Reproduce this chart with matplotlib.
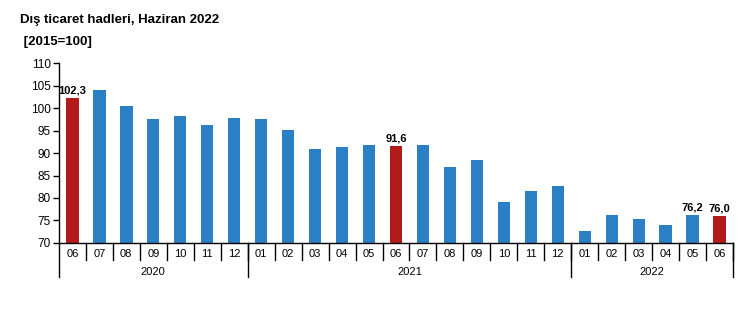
import matplotlib
matplotlib.use("Agg")
import matplotlib.pyplot as plt
import matplotlib.transforms as mtransforms

plt.rcParams['font.family'] = ['Liberation Sans', 'DejaVu Sans']

months = ['06', '07', '08', '09', '10', '11', '12',
          '01', '02', '03', '04', '05', '06', '07', '08', '09', '10', '11', '12',
          '01', '02', '03', '04', '05', '06']
years = ['2020', '2021', '2022']
year_counts = [7, 12, 6]
values = [102.3, 104.0, 100.4, 97.6, 98.3, 96.2, 97.7,
          97.5, 95.1, 91.0, 91.4, 91.8, 91.6, 91.8, 87.0, 88.5, 79.0, 81.6, 82.7,
          72.7, 76.2, 75.3, 74.1, 76.2, 76.0]
highlight = [0, 12, 24]
labelled = {0: '102,3', 12: '91,6', 23: '76,2', 24: '76,0'}

blue = '#2b7fc4'
red = '#b31b1b'

fig = plt.figure(figsize=(7.55, 3.27), dpi=100)
ax = fig.add_axes([0.078, 0.257, 0.893, 0.550])

x = list(range(len(values)))
colors = [red if i in highlight else blue for i in x]
ax.bar(x, [v - 70 for v in values], bottom=70, width=0.46, color=colors)

for i, txt in labelled.items():
    ax.text(i, values[i] + 0.6, txt, ha='center', va='bottom', fontsize=8, fontweight='bold')

ax.set_xlim(-0.5, len(values) - 0.5)
ax.set_ylim(70, 110)
ax.set_yticks(range(70, 111, 5))
ax.tick_params(axis='y', labelsize=8.5, length=4, width=1, pad=2)
ax.set_xticks([])
for s in ['top', 'right']:
    ax.spines[s].set_visible(False)
ax.spines['left'].set_linewidth(1)
ax.spines['bottom'].set_linewidth(1)

trans = mtransforms.blended_transform_factory(ax.transData, ax.transAxes)
short = -17 / 180
long_ = -34 / 180
for i, m in enumerate(months):
    ax.text(i, -11.5 / 180, m, transform=trans, ha='center', va='center', fontsize=8)
    ax.plot([i + 0.5, i + 0.5], [0, short], transform=trans, color='black', lw=1, clip_on=False)

start = -0.5
for yr, n in zip(years, year_counts):
    ax.plot([start, start], [0, long_], transform=trans, color='black', lw=1, clip_on=False)
    ax.text(start + n / 2, -29.5 / 180, yr, transform=trans, ha='center', va='center', fontsize=8)
    start += n
ax.plot([start, start], [0, long_], transform=trans, color='black', lw=1, clip_on=False)

fig.text(0.026, 0.940, 'Dış ticaret hadleri, Haziran 2022', fontsize=9.5, fontweight='bold', va='center')
fig.text(0.026, 0.873, ' [2015=100]', fontsize=9.5, fontweight='bold', va='center')

fig.savefig('out.png', dpi=100)
